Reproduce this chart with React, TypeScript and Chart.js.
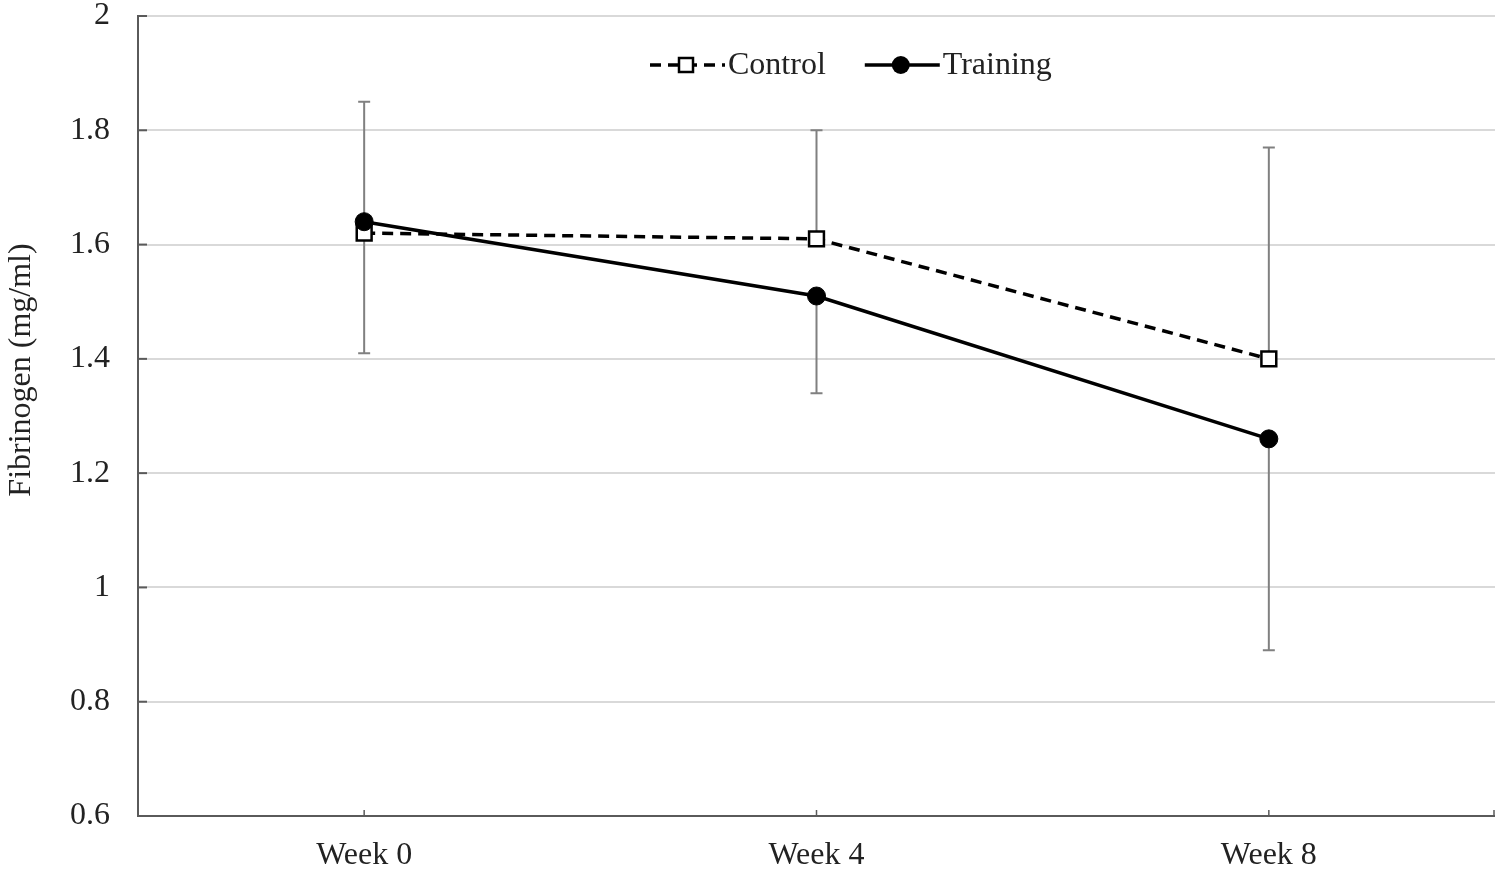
import React, { useEffect, useRef } from "react";
import { Chart, registerables } from "chart.js";

Chart.register(...registerables);

const categories = ["Week 0", "Week 4", "Week 8"];
const controlMean = [1.62, 1.61, 1.4];
const controlErrorEnd = [1.85, 1.8, 1.77];
const trainingMean = [1.64, 1.51, 1.26];
const trainingErrorEnd = [1.41, 1.34, 0.89];
const yTickValues = [0.6, 0.8, 1, 1.2, 1.4, 1.6, 1.8, 2];
const yTitle = "Fibrinogen (mg/ml)";

const FONT = "'Liberation Serif', 'Times New Roman', serif";
const AXIS = "#5a5a5a";

const errorBarPlugin = {
  id: "errorBars",
  beforeDatasetsDraw(chart: any) {
    const ctx = chart.ctx;
    const y = chart.scales.y;
    ctx.save();
    ctx.strokeStyle = "#808080";
    ctx.lineWidth = 2;
    chart.data.datasets.forEach((ds: any, di: number) => {
      const meta = chart.getDatasetMeta(di);
      meta.data.forEach((pt: any, i: number) => {
        const ye = y.getPixelForValue(ds.errorEnds[i]);
        ctx.beginPath();
        ctx.moveTo(pt.x, pt.y);
        ctx.lineTo(pt.x, ye);
        ctx.moveTo(pt.x - 6, ye);
        ctx.lineTo(pt.x + 6, ye);
        ctx.stroke();
      });
    });
    ctx.restore();
  },
  afterDraw(chart: any) {
    const ctx = chart.ctx;
    const { left, right, bottom } = chart.chartArea;
    const x = chart.scales.x;
    const y = chart.scales.y;
    ctx.save();
    ctx.strokeStyle = AXIS;
    ctx.lineWidth = 2;
    ctx.beginPath();
    ctx.moveTo(left, y.getPixelForValue(2) - 1);
    ctx.lineTo(left, bottom);
    ctx.lineTo(right, bottom);
    ctx.stroke();
    yTickValues.forEach((v) => {
      const py = y.getPixelForValue(v);
      ctx.beginPath();
      ctx.moveTo(left, py);
      ctx.lineTo(left + 9, py);
      ctx.stroke();
    });
    ctx.lineWidth = 1.5;
    categories.forEach((_c, i) => {
      const px = x.getPixelForValue(i);
      ctx.beginPath();
      ctx.moveTo(px, bottom);
      ctx.lineTo(px, bottom - 6);
      ctx.stroke();
    });
    ctx.beginPath();
    ctx.moveTo(right - 1, bottom);
    ctx.lineTo(right - 1, bottom - 6);
    ctx.stroke();

    ctx.fillStyle = "#222";
    ctx.font = `32px ${FONT}`;
    ctx.textAlign = "center";
    ctx.textBaseline = "middle";
    ctx.translate(22, 370);
    ctx.rotate(-Math.PI / 2);
    ctx.fillText(yTitle, 0, 0);
    ctx.restore();

    ctx.save();
    ctx.font = `32px ${FONT}`;
    ctx.textBaseline = "middle";
    ctx.textAlign = "left";
    let lx = left + 512;
    const ly = chart.chartArea.top + 49;
    chart.data.datasets.forEach((ds: any) => {
      const sw = 75;
      ctx.strokeStyle = "#000";
      ctx.lineWidth = ds.borderWidth;
      ctx.setLineDash(ds.borderDash || []);
      ctx.beginPath();
      ctx.moveTo(lx, ly);
      ctx.lineTo(lx + sw, ly);
      ctx.stroke();
      ctx.setLineDash([]);
      const cx = lx + 36;
      ctx.fillStyle = ds.pointBackgroundColor;
      ctx.lineWidth = ds.pointBorderWidth;
      if (ds.pointStyle === "rect") {
        const s = 7;
        ctx.fillRect(cx - s, ly - s, 2 * s, 2 * s);
        ctx.strokeRect(cx - s, ly - s, 2 * s, 2 * s);
      } else {
        ctx.beginPath();
        ctx.arc(cx, ly, 9, 0, Math.PI * 2);
        ctx.fill();
      }
      ctx.fillStyle = "#222";
      ctx.fillText(ds.label, lx + sw + 3, ly + 1);
      lx += sw + 3 + ctx.measureText(ds.label).width + 39;
    });
    ctx.restore();
  },
};

export default function App() {
  const ref = useRef<HTMLCanvasElement>(null);
  useEffect(() => {
    document.body.style.margin = "0";
    const chart = new Chart(ref.current as HTMLCanvasElement, {
      type: "line",
      data: {
        labels: categories,
        datasets: [
          {
            label: "Control",
            data: controlMean,
            errorEnds: controlErrorEnd,
            borderColor: "#000",
            borderWidth: 3.5,
            borderDash: [11, 7],
            pointStyle: "rect",
            pointRadius: 10.5,
            pointBackgroundColor: "#fff",
            pointBorderColor: "#000",
            pointBorderWidth: 2.5,
            order: 1,
          } as any,
          {
            label: "Training",
            data: trainingMean,
            errorEnds: trainingErrorEnd,
            borderColor: "#000",
            borderWidth: 3.5,
            pointStyle: "circle",
            pointRadius: 9,
            pointBackgroundColor: "#000",
            pointBorderColor: "#000",
            pointBorderWidth: 1,
            order: 0,
          } as any,
        ],
      },
      options: {
        animation: false,
        responsive: false,
        layout: { autoPadding: false, padding: { top: 16, right: 4, left: 0, bottom: 0 } },
        plugins: { legend: { display: false }, tooltip: { enabled: false } },
        scales: {
          x: {
            type: "category",
            offset: true,
            grid: { display: false, drawTicks: false },
            border: { display: false },
            ticks: {
              color: "#222",
              font: { family: FONT, size: 32 },
              padding: 20,
              maxRotation: 0,
            },
            afterFit: (s: any) => {
              s.height = 53;
              s.paddingLeft = 0;
              s.paddingRight = 0;
            },
          },
          y: {
            min: 0.6,
            max: 2,
            grid: {
              drawTicks: false,
              lineWidth: 2,
              color: (c: any) => (c.tick && Math.abs(c.tick.value - 0.6) < 1e-6 ? "rgba(0,0,0,0)" : "#d9d9d9"),
            },
            border: { display: false },
            afterBuildTicks: (s: any) => {
              s.ticks = yTickValues.map((v) => ({ value: v }));
            },
            ticks: {
              color: "#222",
              font: { family: FONT, size: 32 },
              padding: 28,
              callback: (v: any) => String(Number(Number(v).toFixed(1))),
            },
            afterFit: (s: any) => {
              s.width = 138;
              s.paddingTop = 0;
              s.paddingBottom = 0;
            },
          },
        },
      },
      plugins: [errorBarPlugin],
    } as any);
    return () => chart.destroy();
  }, []);
  return (
    <div style={{ position: "fixed", left: 0, top: 0, width: 1499, height: 869 }}>
      <canvas ref={ref} width={1499} height={869} style={{ display: "block" }} />
    </div>
  );
}
